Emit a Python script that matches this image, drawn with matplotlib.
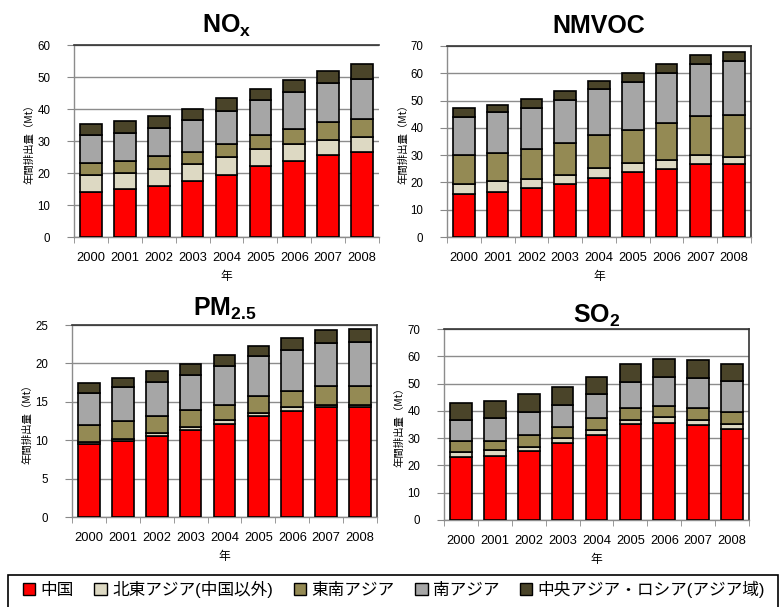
import matplotlib
matplotlib.use("Agg")
import matplotlib.pyplot as plt
from matplotlib.patches import Patch, Rectangle
import numpy as np

plt.rcParams['font.family'] = ['Liberation Sans', 'Noto Sans CJK JP', 'DejaVu Sans']
plt.rcParams['mathtext.fontset'] = 'custom'
plt.rcParams['mathtext.rm'] = 'Liberation Sans:bold'
plt.rcParams['mathtext.bf'] = 'Liberation Sans:bold'
plt.rcParams['mathtext.default'] = 'rm'

years = ['2000', '2001', '2002', '2003', '2004', '2005', '2006', '2007', '2008']
series_names = ['中国', '北東アジア(中国以外)', '東南アジア', '南アジア', '中央アジア・ロシア(アジア域)']
series_colors = ['#FF0000', '#DDD9C3', '#948A54', '#A6A6A6', '#4A4429']

nox_china   = [14.0, 15.0, 16.0, 17.6, 19.4, 22.1, 23.7, 25.7, 26.6]
nox_ne      = [5.4, 5.0, 5.2, 5.3, 5.7, 5.3, 5.3, 4.7, 4.6]
nox_se      = [3.6, 3.7, 4.0, 3.8, 4.0, 4.5, 4.9, 5.4, 5.6]
nox_south   = [8.8, 8.9, 9.0, 9.9, 10.3, 10.9, 11.4, 12.3, 12.7]
nox_central = [3.4, 3.7, 3.6, 3.5, 3.9, 3.5, 3.8, 3.9, 4.5]

nmvoc_china   = [15.7, 16.5, 17.8, 19.4, 21.6, 23.7, 25.1, 26.8, 26.8]
nmvoc_ne      = [3.7, 3.9, 3.4, 3.5, 3.6, 3.3, 3.1, 3.1, 2.7]
nmvoc_se      = [10.5, 10.3, 11.2, 11.4, 12.2, 12.1, 13.6, 14.4, 15.1]
nmvoc_south   = [14.2, 15.0, 15.0, 15.9, 16.7, 17.7, 18.2, 19.1, 19.8]
nmvoc_central = [3.1, 2.6, 3.2, 3.3, 3.2, 3.4, 3.4, 3.4, 3.5]

pm_china   = [9.5, 9.9, 10.5, 11.3, 12.1, 13.2, 13.8, 14.3, 14.3]
pm_ne      = [0.3, 0.3, 0.4, 0.4, 0.5, 0.4, 0.5, 0.3, 0.3]
pm_se      = [2.2, 2.3, 2.2, 2.2, 2.0, 2.1, 2.1, 2.4, 2.4]
pm_south   = [4.2, 4.4, 4.5, 4.6, 5.1, 5.2, 5.3, 5.6, 5.8]
pm_central = [1.3, 1.2, 1.4, 1.4, 1.4, 1.4, 1.6, 1.7, 1.7]

so2_china   = [23.0, 23.3, 25.3, 28.2, 31.2, 35.1, 35.6, 34.8, 33.5]
so2_ne      = [1.8, 2.2, 1.6, 1.7, 1.8, 1.7, 2.0, 1.9, 1.8]
so2_se      = [4.0, 3.6, 4.2, 4.2, 4.3, 4.4, 4.1, 4.2, 4.4]
so2_south   = [7.8, 8.1, 8.3, 8.1, 8.8, 9.5, 10.6, 11.1, 11.1]
so2_central = [6.1, 6.5, 6.6, 6.6, 6.2, 6.6, 6.7, 6.5, 6.5]

W, H = 780, 607
fig = plt.figure(figsize=(W / 100, H / 100), dpi=100)

def px_axes(left, top, right, bottom):
    return fig.add_axes([left / W, 1 - bottom / H, (right - left) / W, (bottom - top) / H])

panels = [
    dict(box=(74, 45, 379, 237), title='NO$_{\\mathrm{x}}$', pad=8.5, ymax=60, step=10,
         data=[nox_china, nox_ne, nox_se, nox_south, nox_central], right=False),
    dict(box=(447, 46, 751, 237), title='NMVOC', pad=9.5, ymax=70, step=10,
         data=[nmvoc_china, nmvoc_ne, nmvoc_se, nmvoc_south, nmvoc_central], right=True),
    dict(box=(72, 325, 377, 517), title='PM$_{\\mathrm{2.5}}$', pad=6.5, ymax=25, step=5,
         data=[pm_china, pm_ne, pm_se, pm_south, pm_central], right=True),
    dict(box=(444, 329, 749, 520), title='SO$_{\\mathrm{2}}$', pad=4.5, ymax=70, step=10,
         data=[so2_china, so2_ne, so2_se, so2_south, so2_central], right=True),
]

x = np.arange(len(years))
for p in panels:
    ax = px_axes(*p['box'])
    bottom = np.zeros(len(years))
    for vals, col in zip(p['data'], series_colors):
        vals = np.array(vals)
        ax.bar(x, vals, width=0.64, bottom=bottom, color=col, edgecolor='black',
               linewidth=1.2, zorder=3)
        bottom += vals
    ax.set_xlim(-0.5, len(years) - 0.5)
    ax.set_ylim(0, p['ymax'])
    ax.set_yticks(np.arange(0, p['ymax'] + 0.1, p['step']))
    ax.yaxis.grid(True, color='#8C8C8C', linewidth=1.0, zorder=0)
    ax.set_axisbelow(True)
    ax.set_xticks(x)
    ax.set_xticklabels(years, fontsize=9.3)
    ax.set_xticks(np.arange(-0.5, len(years) + 0.5, 1.0), minor=True)
    ax.tick_params(axis='x', which='major', length=0, pad=11)
    ax.tick_params(axis='x', which='minor', length=4, color='#888888', direction='out')
    ax.tick_params(axis='y', length=5, color='#888888', labelsize=8.3, pad=12)
    for s in ['left', 'bottom']:
        ax.spines[s].set_color('#8C8C8C')
        ax.spines[s].set_linewidth(1.0)
    ax.spines['top'].set_color('#333333')
    ax.spines['top'].set_linewidth(1.2)
    if p['right']:
        ax.spines['right'].set_color('#333333')
        ax.spines['right'].set_linewidth(1.2)
    else:
        ax.spines['right'].set_visible(False)
    ax.set_title(p['title'], fontsize=18, fontweight='bold', pad=p['pad'])
    ax.set_xlabel('年', fontsize=8.5, labelpad=4, family=['Noto Sans CJK JP'])
    ax.set_ylabel('年間排出量（Mt）', fontsize=7.5, family=['Noto Sans CJK JP'])
    ax.yaxis.set_label_coords(-0.128, 0.5)

handles = [Patch(facecolor=c, edgecolor='black', linewidth=1.0) for c in series_colors]
fig.legend(handles, series_names, loc='center', bbox_to_anchor=(0.505, 1 - 589 / H),
           ncol=5, frameon=False, handlelength=0.75, handleheight=0.75,
           handletextpad=0.3, columnspacing=1.25,
           prop={'family': ['Liberation Sans', 'Noto Sans CJK JP'], 'size': 12})
fig.patches.append(Rectangle((8 / W, -0.02), 770 / W, 0.02 + (607 - 575) / H,
                             transform=fig.transFigure, fill=False, edgecolor='black',
                             linewidth=1.2))

fig.savefig('out.png', dpi=100)
